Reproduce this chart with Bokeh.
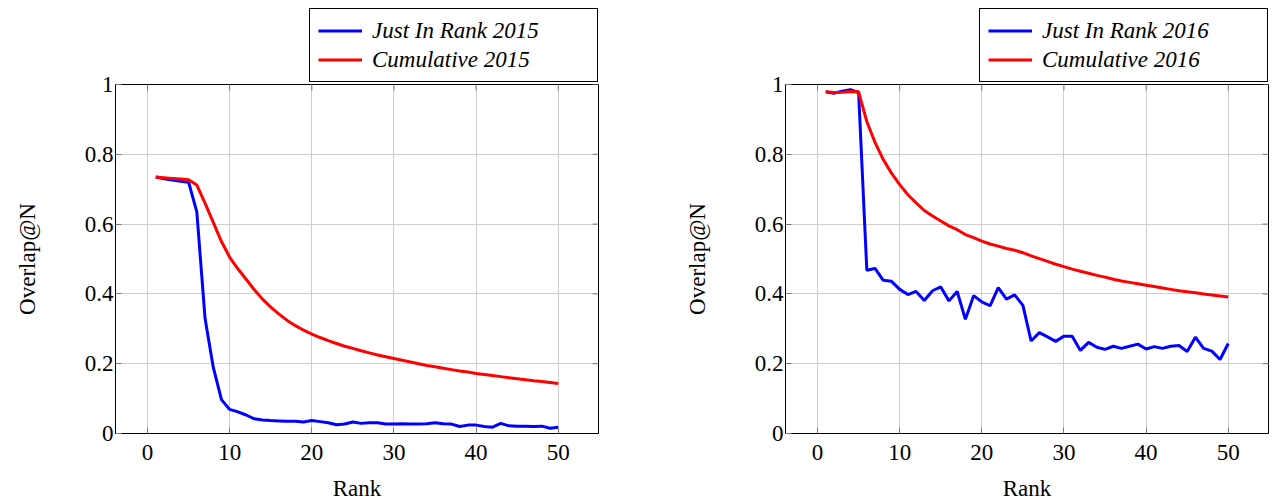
from bokeh.plotting import figure
from bokeh.models import Range1d, FixedTicker, Legend, LegendItem
from bokeh.layouts import row, column
from bokeh.embed import file_html
from bokeh.resources import INLINE

ranks = list(range(1, 51))

just_in_rank_2015 = [0.735, 0.730, 0.726, 0.723, 0.720, 0.635, 0.330, 0.190, 0.097, 0.069,
                     0.062, 0.053, 0.042, 0.039, 0.037, 0.036, 0.035, 0.035, 0.033, 0.037,
                     0.034, 0.031, 0.025, 0.027, 0.033, 0.029, 0.031, 0.031, 0.027, 0.027,
                     0.028, 0.027, 0.027, 0.028, 0.031, 0.028, 0.027, 0.020, 0.024, 0.024,
                     0.020, 0.018, 0.029, 0.022, 0.021, 0.021, 0.020, 0.021, 0.015, 0.018]
cumulative_2015 = [0.735, 0.733, 0.731, 0.729, 0.727, 0.712, 0.660, 0.605, 0.550, 0.505,
                   0.472, 0.442, 0.412, 0.385, 0.362, 0.342, 0.324, 0.309, 0.296, 0.285,
                   0.275, 0.266, 0.258, 0.250, 0.244, 0.237, 0.231, 0.225, 0.220, 0.215,
                   0.210, 0.205, 0.200, 0.195, 0.191, 0.187, 0.183, 0.179, 0.176, 0.172,
                   0.169, 0.166, 0.163, 0.160, 0.157, 0.154, 0.151, 0.149, 0.146, 0.143]

just_in_rank_2016 = [0.979, 0.975, 0.981, 0.985, 0.977, 0.468, 0.473, 0.439, 0.436, 0.413,
                     0.398, 0.407, 0.381, 0.409, 0.420, 0.380, 0.407, 0.327, 0.395, 0.377,
                     0.366, 0.418, 0.385, 0.397, 0.367, 0.265, 0.289, 0.277, 0.264, 0.279,
                     0.279, 0.238, 0.261, 0.247, 0.241, 0.250, 0.244, 0.250, 0.256, 0.242,
                     0.249, 0.244, 0.250, 0.252, 0.235, 0.276, 0.244, 0.236, 0.212, 0.258]
cumulative_2016 = [0.979, 0.977, 0.978, 0.980, 0.979, 0.894, 0.834, 0.785, 0.746, 0.713,
                   0.684, 0.661, 0.639, 0.623, 0.609, 0.595, 0.584, 0.570, 0.561, 0.551,
                   0.543, 0.537, 0.530, 0.525, 0.518, 0.509, 0.501, 0.493, 0.485, 0.478,
                   0.471, 0.465, 0.459, 0.453, 0.448, 0.442, 0.437, 0.433, 0.429, 0.425,
                   0.421, 0.417, 0.413, 0.409, 0.406, 0.403, 0.400, 0.397, 0.394, 0.391]

x_ticks = [0, 10, 20, 30, 40, 50]
y_ticks = [0, 0.2, 0.4, 0.6, 0.8, 1]

X0, X1 = -3.9, 54.9
Y0, Y1 = 0.0, 1.0
FRAME_W, FRAME_H = 483, 349

FONT = "Liberation Serif"
FS = "23px"
LEG_FS = "23px"
TICK_COLOR = "#7a7a7a"
LEG_W = 287
BLUE, RED = "#0000ff", "#ff0000"
OVERLAP = 12


def style_axis(ax, ticks):
    ax.ticker = FixedTicker(ticks=ticks)
    ax.major_tick_in = 6
    ax.major_tick_out = 0
    ax.minor_tick_line_color = None
    ax.major_tick_line_color = TICK_COLOR
    ax.major_tick_line_width = 1
    ax.axis_line_color = "black"
    ax.axis_line_width = 1
    ax.major_label_text_font = FONT
    ax.major_label_text_font_size = FS
    ax.major_label_text_color = "black"
    ax.axis_label_text_font = FONT
    ax.axis_label_text_font_size = FS
    ax.axis_label_text_font_style = "normal"
    ax.axis_label_text_color = "black"


def make_plot(jir, cum, border_left, border_right):
    p = figure(frame_width=FRAME_W, frame_height=FRAME_H,
               x_range=Range1d(X0, X1), y_range=Range1d(Y0, Y1),
               output_backend="svg", toolbar_location=None,
               min_border_left=border_left, min_border_right=border_right,
               min_border_top=2 + OVERLAP, min_border_bottom=70)
    p.margin = (-OVERLAP, 0, 0, 0)
    p.background_fill_color = "white"
    p.border_fill_color = None
    p.outline_line_color = "black"
    p.outline_line_width = 1

    style_axis(p.xaxis[0], x_ticks)
    style_axis(p.yaxis[0], y_ticks)
    p.xaxis.axis_label = "Rank"
    p.yaxis.axis_label = "Overlap@N"
    p.xaxis.major_label_standoff = 11
    p.yaxis.major_label_standoff = 2
    p.xaxis.axis_label_standoff = 13
    p.yaxis.axis_label_standoff = 42
    p.yaxis.major_label_overrides = {0: "0", 1: "1"}

    p.xgrid.ticker = FixedTicker(ticks=x_ticks)
    p.ygrid.ticker = FixedTicker(ticks=y_ticks)
    for g in (p.xgrid[0], p.ygrid[0]):
        g.grid_line_color = "#cfcfcf"
        g.grid_line_width = 1

    # mirrored inward ticks on the right and top edges
    dx = 6 * (X1 - X0) / FRAME_W
    dy = 6 * (Y1 - Y0) / FRAME_H
    p.segment(x0=[X1] * len(y_ticks), y0=y_ticks, x1=[X1 - dx] * len(y_ticks), y1=y_ticks,
              line_color=TICK_COLOR, line_width=1)
    p.segment(x0=x_ticks, y0=[Y1] * len(x_ticks), x1=x_ticks, y1=[Y1 - dy] * len(x_ticks),
              line_color=TICK_COLOR, line_width=1)

    p.line(ranks, jir, line_color=BLUE, line_width=3)
    p.line(ranks, cum, line_color=RED, line_width=3)
    return p


def make_legend(jir, cum, year, border_left, border_right):
    # a strip above the plot that holds only the legend (same series, out of view)
    f = figure(frame_width=FRAME_W, frame_height=74,
               x_range=Range1d(X0, X1), y_range=Range1d(10, 11),
               output_backend="svg", toolbar_location=None,
               x_axis_location=None, y_axis_location=None,
               min_border_left=border_left, min_border_right=border_right,
               min_border_top=8, min_border_bottom=0)
    f.grid.visible = False
    f.outline_line_color = None
    f.background_fill_color = "white"
    f.border_fill_color = "white"
    r1 = f.line(ranks, jir, line_color=BLUE, line_width=3)
    r2 = f.line(ranks, cum, line_color=RED, line_width=3)
    legend = Legend(items=[LegendItem(label="Just In Rank " + year, renderers=[r1]),
                           LegendItem(label="Cumulative " + year, renderers=[r2])],
                    location="top_right", orientation="vertical")
    legend.label_text_font = FONT
    legend.label_text_font_size = LEG_FS
    legend.label_text_font_style = "italic"
    legend.label_text_color = "black"
    legend.border_line_color = "black"
    legend.border_line_width = 1
    legend.border_line_alpha = 1
    legend.background_fill_color = "white"
    legend.background_fill_alpha = 1
    legend.glyph_width = 44
    legend.glyph_height = 27
    legend.label_height = 27
    legend.label_standoff = 10
    legend.label_width = LEG_W - 16 - 44 - 10
    legend.spacing = 2
    legend.padding = 8
    legend.margin = 0
    f.add_layout(legend, "center")
    return f


L1, R1 = 115, 79
L2, R2 = 108, 2
p1 = make_plot(just_in_rank_2015, cumulative_2015, L1, R1)
p2 = make_plot(just_in_rank_2016, cumulative_2016, L2, R2)
g1 = make_legend(just_in_rank_2015, cumulative_2015, "2015", L1, R1)
g2 = make_legend(just_in_rank_2016, cumulative_2016, "2016", L2, R2)

layout = row(column(g1, p1, spacing=0), column(g2, p2, spacing=0), spacing=0)
open("out.html", "w").write(file_html(layout, INLINE))
